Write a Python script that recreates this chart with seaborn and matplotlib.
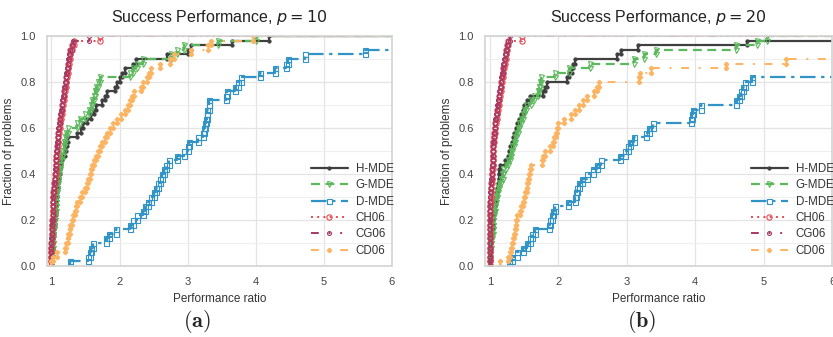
import numpy as np
import pandas as pd
import matplotlib
matplotlib.use("Agg")
import matplotlib.pyplot as plt
import seaborn as sns

# Performance-ratio profiles (Dolan-More style) for two problem sizes.
n_problems = 50
tau_max = 6.0
solvers = ["H-MDE", "G-MDE", "D-MDE", "CH06", "CG06", "CD06"]

# ---------- p = 10 : sorted performance ratios of the solved problems ----------
h_mde_10 = [1.00, 1.01, 1.01, 1.02, 1.02, 1.03, 1.03, 1.04, 1.04, 1.05,
            1.05, 1.06, 1.06, 1.07, 1.07, 1.08, 1.08, 1.09, 1.10, 1.11,
            1.12, 1.13, 1.14, 1.15, 1.20, 1.22, 1.23, 1.25, 1.38, 1.43,
            1.46, 1.52, 1.58, 1.62, 1.65, 1.75, 1.78, 1.82, 1.93, 1.96,
            2.00, 2.04, 2.08, 2.20, 2.24, 2.70, 3.00, 3.05, 3.65, 4.20]
g_mde_10 = [1.00, 1.00, 1.01, 1.01, 1.02, 1.02, 1.03, 1.03, 1.04, 1.04,
            1.05, 1.05, 1.06, 1.06, 1.07, 1.07, 1.08, 1.08, 1.09, 1.10,
            1.11, 1.12, 1.13, 1.15, 1.16, 1.18, 1.19, 1.20, 1.22, 1.24,
            1.38, 1.42, 1.50, 1.55, 1.58, 1.60, 1.62, 1.64, 1.66, 1.68,
            1.72, 2.15, 2.20, 2.25, 2.35, 2.75, 2.85, 2.95, 3.45, 4.00]
d_mde_10 = [1.27, 1.54, 1.56, 1.58, 1.61, 1.80, 1.84, 1.95, 2.16, 2.20,
            2.26, 2.35, 2.38, 2.42, 2.46, 2.50, 2.53, 2.56, 2.60, 2.63,
            2.66, 2.68, 2.72, 2.85, 2.95, 3.00, 3.02, 3.15, 3.22, 3.24,
            3.26, 3.27, 3.28, 3.29, 3.31, 3.32, 3.56, 3.58, 3.70, 3.74,
            3.78, 4.06, 4.28, 4.44, 4.48, 4.72, 5.60]
ch06_10 = [1.00, 1.00, 1.00, 1.00, 1.00, 1.01, 1.01, 1.01, 1.01, 1.01,
           1.02, 1.02, 1.02, 1.03, 1.03, 1.03, 1.04, 1.04, 1.05, 1.05,
           1.06, 1.06, 1.07, 1.07, 1.08, 1.08, 1.09, 1.10, 1.10, 1.11,
           1.12, 1.13, 1.14, 1.15, 1.16, 1.17, 1.18, 1.19, 1.20, 1.21,
           1.22, 1.23, 1.24, 1.25, 1.26, 1.27, 1.28, 1.30, 1.33, 1.72]
cg06_10 = [1.00, 1.00, 1.00, 1.00, 1.00, 1.00, 1.01, 1.01, 1.01, 1.01,
           1.02, 1.02, 1.02, 1.03, 1.03, 1.03, 1.04, 1.04, 1.05, 1.05,
           1.05, 1.06, 1.06, 1.07, 1.07, 1.08, 1.08, 1.09, 1.09, 1.10,
           1.11, 1.12, 1.13, 1.14, 1.15, 1.16, 1.17, 1.18, 1.19, 1.20,
           1.21, 1.22, 1.23, 1.24, 1.25, 1.26, 1.28, 1.30, 1.32, 1.55]
cd06_10 = [1.00, 1.02, 1.08, 1.20, 1.22, 1.24, 1.25, 1.27, 1.28, 1.30,
           1.32, 1.34, 1.36, 1.38, 1.42, 1.45, 1.50, 1.52, 1.54, 1.56,
           1.58, 1.60, 1.62, 1.65, 1.68, 1.72, 1.75, 1.78, 1.82, 1.86,
           1.90, 1.96, 2.02, 2.08, 2.12, 2.16, 2.18, 2.22, 2.32, 2.34,
           2.40, 2.44, 2.46, 2.60, 2.74, 2.80, 3.05, 3.30, 3.35, 3.96]

# ---------- p = 20 ----------
h_mde_20 = [1.00, 1.00, 1.01, 1.01, 1.02, 1.02, 1.03, 1.03, 1.04, 1.04,
            1.05, 1.06, 1.07, 1.08, 1.09, 1.10, 1.11, 1.12, 1.13, 1.14,
            1.14, 1.15, 1.22, 1.26, 1.28, 1.30, 1.32, 1.34, 1.36, 1.38,
            1.40, 1.43, 1.45, 1.48, 1.50, 1.55, 1.58, 1.77, 1.80, 1.84,
            2.12, 2.16, 2.20, 2.22, 2.24, 2.86, 2.92, 3.16, 4.75]
g_mde_20 = [1.00, 1.00, 1.01, 1.01, 1.02, 1.02, 1.03, 1.04, 1.04, 1.05,
            1.05, 1.06, 1.07, 1.08, 1.09, 1.10, 1.12, 1.14, 1.16, 1.19,
            1.20, 1.24, 1.27, 1.29, 1.31, 1.33, 1.35, 1.37, 1.39, 1.41,
            1.43, 1.45, 1.48, 1.50, 1.53, 1.60, 1.65, 1.70, 1.72, 1.74,
            1.75, 1.95, 2.15, 2.47, 3.10, 3.25, 3.42, 4.60, 4.90, 5.05]
d_mde_20 = [1.28, 1.32, 1.40, 1.48, 1.54, 1.58, 1.62, 1.66, 1.86, 1.88,
            1.91, 1.93, 1.95, 2.14, 2.24, 2.26, 2.28, 2.30, 2.34, 2.42,
            2.50, 2.56, 2.62, 2.90, 2.98, 3.02, 3.04, 3.10, 3.28, 3.32,
            3.38, 3.93, 3.95, 3.97, 4.08, 4.60, 4.64, 4.67, 4.70, 4.73,
            4.83]
ch06_20 = [1.00, 1.00, 1.00, 1.00, 1.00, 1.00, 1.00, 1.00, 1.00, 1.00,
           1.01, 1.01, 1.01, 1.01, 1.02, 1.02, 1.02, 1.02, 1.03, 1.03,
           1.03, 1.04, 1.04, 1.04, 1.05, 1.05, 1.05, 1.06, 1.06, 1.07,
           1.08, 1.09, 1.10, 1.11, 1.12, 1.13, 1.14, 1.15, 1.16, 1.17,
           1.18, 1.19, 1.20, 1.21, 1.22, 1.23, 1.24, 1.25, 1.27, 1.47]
cg06_20 = [1.00, 1.00, 1.00, 1.00, 1.00, 1.00, 1.00, 1.00, 1.00, 1.00,
           1.00, 1.00, 1.01, 1.01, 1.01, 1.01, 1.02, 1.02, 1.02, 1.03,
           1.03, 1.03, 1.04, 1.04, 1.04, 1.05, 1.05, 1.06, 1.06, 1.07,
           1.07, 1.08, 1.09, 1.10, 1.11, 1.12, 1.13, 1.14, 1.15, 1.16,
           1.17, 1.18, 1.19, 1.20, 1.21, 1.22, 1.23, 1.25, 1.27, 1.30]
cd06_20 = [1.15, 1.27, 1.29, 1.31, 1.33, 1.34, 1.35, 1.37, 1.38, 1.39,
           1.40, 1.44, 1.46, 1.48, 1.50, 1.52, 1.54, 1.55, 1.56, 1.57,
           1.58, 1.60, 1.76, 1.78, 1.80, 1.88, 1.92, 1.94, 1.96, 1.98,
           2.00, 2.08, 2.18, 2.24, 2.30, 2.36, 2.42, 2.52, 2.56, 2.60,
           3.18, 3.20, 3.36, 4.45, 5.32]

ratios_p10 = [h_mde_10, g_mde_10, d_mde_10, ch06_10, cg06_10, cd06_10]
ratios_p20 = [h_mde_20, g_mde_20, d_mde_20, ch06_20, cg06_20, cd06_20]

styles = {
    "H-MDE": dict(color="#404040", linestyle="-", marker=".", ms=4.5, mfc="#404040", lw=1.6),
    "G-MDE": dict(color="#5cb85c", linestyle=(0, (4, 2.5)), marker="v", ms=3.6, mfc="none", lw=1.6),
    "D-MDE": dict(color="#3293c6", linestyle=(0, (7, 2.5, 1.5, 2.5)), marker="s", ms=3.6, mfc="none", lw=1.6),
    "CH06": dict(color="#e8474f", linestyle=(0, (1, 2.2)), marker="o", ms=3.8, mfc="none", lw=1.4),
    "CG06": dict(color="#a53a64", linestyle=(0, (4, 5, 1, 5, 1, 5)), marker="o", ms=2.8, mfc="none", lw=1.4),
    "CD06": dict(color="#fdb462", linestyle=(0, (4, 5, 1, 5)), marker="P", ms=3.0, mfc="#fdb462", lw=1.4),
}


def profile_frame(ratios):
    """Step coordinates of a performance profile: each solved problem raises the curve."""
    r = np.sort(np.asarray(ratios, dtype=float))
    k = np.arange(1, len(r) + 1)
    xs = np.column_stack([r, r]).ravel()
    ys = np.column_stack([(k - 1) / n_problems, k / n_problems]).ravel()
    xs = np.append(xs, tau_max + 0.5)
    ys = np.append(ys, len(r) / n_problems)
    return pd.DataFrame({"ratio": xs, "fraction": ys})


sns.set_theme(style="whitegrid")
plt.rcParams["font.family"] = ["Liberation Sans", "DejaVu Sans"]
plt.rcParams["axes.edgecolor"] = "#d5d5d5"
plt.rcParams["grid.color"] = "#e4e4e4"

fig = plt.figure(figsize=(8.33, 3.37), dpi=100)
ax_a = fig.add_axes([0.0560, 0.211, 0.4145, 0.682])
ax_b = fig.add_axes([0.5822, 0.211, 0.4170, 0.682])

for ax, data, p, tag, tag_x in [(ax_a, ratios_p10, 10, "(a)", 0.237),
                                 (ax_b, ratios_p20, 20, "(b)", 0.770)]:
    for name, ratios in zip(solvers, data):
        st = styles[name]
        df = profile_frame(ratios)
        sns.lineplot(data=df, x="ratio", y="fraction", ax=ax, sort=False,
                     estimator=None, color=st["color"], linestyle=st["linestyle"],
                     linewidth=st["lw"], marker=st["marker"], markersize=st["ms"],
                     markerfacecolor=st["mfc"], markeredgecolor=st["color"],
                     markeredgewidth=0.8, markevery=list(range(len(df) - 1)),
                     label=name)
    ax.set_xlim(0.93, tau_max)
    ax.set_ylim(0.0, 1.0)
    ax.set_xticks([1, 2, 3, 4, 5, 6])
    ax.set_yticks(np.arange(0, 1.01, 0.2))
    ax.set_yticks(np.arange(0.1, 1.0, 0.2), minor=True)
    ax.grid(which="minor", axis="y", color="#efefef", linewidth=0.8)
    ax.grid(which="major", color="#e4e4e4", linewidth=0.9)
    ax.tick_params(axis="both", which="major", labelsize=8, pad=2, colors="#444444")
    ax.set_xlabel("Performance ratio", fontsize=8.5, color="#333333", labelpad=4)
    ax.set_ylabel("Fraction of problems", fontsize=8.5, color="#333333", labelpad=4)
    ax.set_title(rf"Success Performance, $p = {p}$", fontsize=11.5, color="#222222", pad=10)
    leg = ax.legend(loc="lower left", bbox_to_anchor=(0.745, 0.01), frameon=False,
                    fontsize=8.3, handlelength=3.2, handletextpad=0.7,
                    labelspacing=0.38, borderaxespad=0.2)
    for txt in leg.get_texts():
        txt.set_color("#333333")
    fig.text(tag_x, 0.045, rf"$\mathbf{{{tag}}}$", fontsize=16, ha="center",
             va="center", math_fontfamily="cm")

fig.savefig("out.png", dpi=100)
